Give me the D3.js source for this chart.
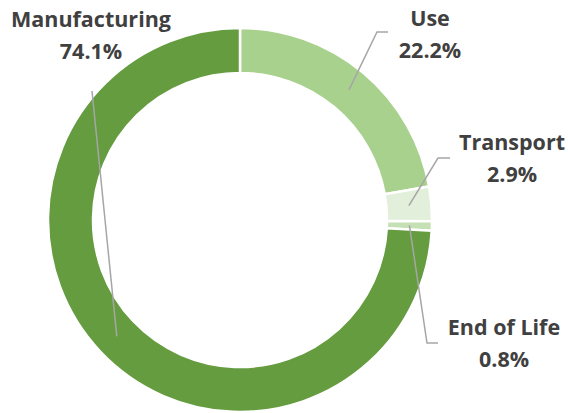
<!DOCTYPE html>
<html>
<head>
<meta charset="utf-8">
<script src="https://cdn.jsdelivr.net/npm/d3@7"></script>
<style>
  body { margin: 0; background: #fff; }
  svg { display: block; }
  .lbl { font-family: "Open Sans", Lato, sans-serif; font-weight: bold; font-size: 21.5px; fill: #404040; }
</style>
</head>
<body>
<div class="donut"></div>
<script>
// chart values, clockwise from 12 o'clock
const stages = ["Use", "Transport", "End of Life", "Manufacturing"];
const shares = [22.2, 2.9, 0.8, 74.1];
const shareLabels = ["22.2%", "2.9%", "0.8%", "74.1%"];
const colors = ["#a9d18e", "#e2efda", "#c5e0b4", "#659c3f"];

const width = 568, height = 413;
const cx = 240, cy = 220, outerR = 192, innerR = 147;

// where Excel dropped each label (text centre x, first baseline) and the leader bend
const labelLayout = {
  "Use":           { x: 430, y: 26,  bend: [377, 32],  end: [388, 32] },
  "Transport":     { x: 512, y: 150, bend: [438, 158], end: [450, 158] },
  "End of Life":   { x: 504, y: 335, bend: [427, 343], end: [438, 343] },
  "Manufacturing": { x: 91,  y: 27,  bend: null,       end: [92, 91] }
};

let svg = d3.select(".donut")
            .append("svg")
            .attr("width", width)
            .attr("height", height);

let rows = stages.map((s, i) => ({ stage: s, value: shares[i], text: shareLabels[i], color: colors[i] }));

let pie = d3.pie()
            .sort(null)
            .value(d => d.value);
let arc = d3.arc()
            .innerRadius(innerR)
            .outerRadius(outerR);

let g = svg.append("g")
           .attr("transform", "translate(" + cx + "," + cy + ")");

let slices = pie(rows);

g.selectAll(".slice")
 .data(slices)
 .enter()
 .append("path")
 .attr("class", "slice")
 .attr("d", arc)
 .attr("fill", d => d.data.color)
 .attr("stroke", "#fff")
 .attr("stroke-width", 2.5)
 .attr("stroke-linejoin", "miter");

// leader lines from slice centroid to label
slices.forEach(d => {
  let lay = labelLayout[d.data.stage];
  let c = arc.centroid(d);
  let pts = [[cx + c[0], cy + c[1]]];
  if (lay.bend) pts.push(lay.bend);
  pts.push(lay.end);
  svg.append("path")
     .attr("d", d3.line()(pts))
     .attr("fill", "none")
     .attr("stroke", "#a6a6a6")
     .attr("stroke-width", 1.5);
});

slices.forEach(d => {
  let lay = labelLayout[d.data.stage];
  let t = svg.append("text")
             .attr("class", "lbl")
             .attr("text-anchor", "middle");
  t.append("tspan").attr("x", lay.x).attr("y", lay.y).text(d.data.stage);
  t.append("tspan").attr("x", lay.x).attr("y", lay.y + 32).text(d.data.text);
});
</script>
</body>
</html>
